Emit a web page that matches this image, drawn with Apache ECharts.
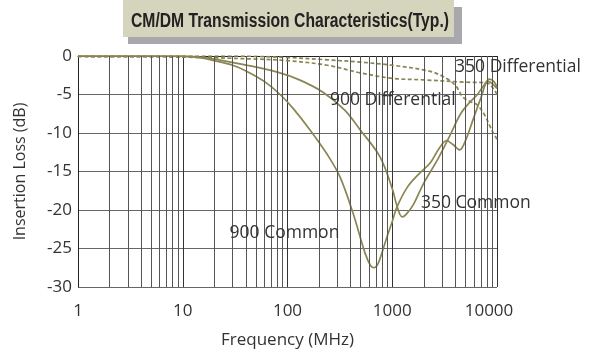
<!DOCTYPE html>
<html><head><meta charset="utf-8">
<script src="https://cdn.jsdelivr.net/npm/echarts@6/dist/echarts.min.js"></script>
<style>html,body{margin:0;padding:0;background:#fff}#c{width:590px;height:354px}</style>
</head><body><div id="c"></div>
<script>
const titleText = 'CM/DM Transmission Characteristics(Typ.)';
const xLabel = 'Frequency (MHz)';
const yLabel = 'Insertion Loss (dB)';
const xTicks = [1, 10, 100, 1000, 10000];
const minorGrid = [2,3,4,5,6,7,8,9,20,30,40,50,60,70,80,90,200,300,400,500,600,700,800,900,2000,3000,4000,5000,6000,7000,8000,9000];

const c900Freq = [1,5,10,15,20,30,41,60,85,113,164,240,317,422,550,620,670,730,800,890,1000,1110,1400,1800,2300,2800,3300,3800,4400,5000,6000,7000,8200,9000,10000];
const c900Vals = [0,0,-0.05,-0.25,-0.6,-1.2,-2.0,-3.3,-5.0,-6.8,-9.6,-12.8,-15.7,-20.4,-25.6,-27.2,-27.5,-27.0,-25.5,-23.5,-21.5,-19.6,-17.0,-15.3,-13.9,-12.0,-11.0,-11.5,-12.2,-11.0,-8.0,-5.5,-3.3,-3.6,-4.2];

const c350Freq = [1,10,18,41,80,130,218,350,495,764,1010,1100,1240,1350,1590,2000,2700,3500,4500,5500,6500,7500,8500,9300,10000];
const c350Vals = [0,0,-0.3,-1.2,-2.1,-3.1,-4.7,-7.0,-9.6,-13.1,-17.4,-19.3,-20.9,-20.6,-19.3,-16.5,-13.5,-10.5,-7.5,-6.0,-5.0,-3.8,-3.0,-3.3,-4.0];

const d350Freq = [1,30,100,240,500,1000,2150,3000,4000,4700,5500,6400,7500,8500,9200,10000];
const d350Vals = [0,0,-0.2,-0.5,-0.8,-1.2,-1.9,-2.6,-3.8,-5.3,-5.9,-6.3,-7.5,-9.0,-10.0,-10.8];

const d900Freq = [1,10,50,100,240,500,1000,2000,5000,8000,9200,10000];
const d900Vals = [-0.1,-0.15,-0.4,-0.6,-1.2,-2.2,-2.9,-3.1,-3.4,-3.5,-4.2,-5.0];

const seriesNames = ['900 Common','350 Common','350 Differential','900 Differential'];
const labelAnchors = [[28,-23],[1880,-19.1],[3980,-1.4],[254,-5.7]];

function pairs(f, v){ return f.map((x,i)=>[x, v[i]]); }

const lineColor = '#8a8553';
const txt = '#333';
const font = 'Open Sans';

// fit title into its box width
const titleFont = 'bold 20px "Liberation Sans", sans-serif';
const mctx = document.createElement('canvas').getContext('2d');
mctx.font = titleFont;
const titleW = mctx.measureText(titleText).width;
const titleScale = 318 / titleW;

const chart = echarts.init(document.getElementById('c'), null, {renderer:'canvas'});

function lab(i){
  return {
    symbol: 'circle', symbolSize: 0, silent: true,
    label: {show: true, position: 'right', distance: 0, formatter: seriesNames[i], color: txt, fontFamily: font, fontSize: 17.5},
    data: [{coord: labelAnchors[i]}]
  };
}

const option = {
  animation: false,
  backgroundColor: '#fff',
  grid: {left: 78, top: 56, right: 93, bottom: 67, containLabel: false, outerBoundsMode: 'none'},
  xAxis: {
    type: 'log', logBase: 10, min: 1, max: 10000,
    name: xLabel, nameLocation: 'middle', nameGap: 45,
    nameTextStyle: {color: txt, fontFamily: font, fontSize: 17},
    axisLine: {show: true, lineStyle: {color: '#222', width: 1}},
    axisTick: {show: false},
    axisLabel: {color: txt, fontFamily: font, fontSize: 17, margin: 16,
      formatter: v => (v === xTicks[xTicks.length-1] ? '{last|' + v + '}' : String(v)),
      rich: {last: {color: txt, fontFamily: font, fontSize: 17, padding: [0, 16, 0, 0]}}},
    splitLine: {show: true, lineStyle: {color: '#333', width: 1}}
  },
  yAxis: {
    type: 'value', min: -30, max: 0, interval: 5,
    name: yLabel, nameLocation: 'middle', nameGap: 50, nameRotate: 90,
    nameTextStyle: {color: txt, fontFamily: font, fontSize: 16},
    axisLine: {show: true, lineStyle: {color: '#222', width: 1}},
    axisTick: {show: false},
    axisLabel: {color: txt, fontFamily: font, fontSize: 17, margin: 6},
    splitLine: {show: true, lineStyle: {color: '#666', width: 1}}
  },
  graphic: [
    {type: 'rect', shape: {x: 128, y: 7, width: 334, height: 37}, style: {fill: '#a8a8ac'}, z: 10},
    {type: 'rect', shape: {x: 123, y: 0, width: 331, height: 37}, style: {fill: '#d5d4bd'}, z: 11},
    {type: 'text', x: 290, y: 21, scaleX: titleScale, z: 12, style: {text: titleText, fill: '#222', font: titleFont, align: 'center', verticalAlign: 'middle'}}
  ],
  series: [
    {
      type: 'line', data: [], z: 1, silent: true,
      markLine: {
        silent: true, symbol: ['none','none'], label: {show: false},
        lineStyle: {color: '#555', width: 1, type: 'solid'},
        data: minorGrid.map(v => ({xAxis: v}))
      }
    },
    {name: seriesNames[0], type: 'line', z: 3, data: pairs(c900Freq, c900Vals), showSymbol: false, smooth: 0.35,
     lineStyle: {color: lineColor, width: 1.7}, markPoint: lab(0)},
    {name: seriesNames[1], type: 'line', z: 3, data: pairs(c350Freq, c350Vals), showSymbol: false, smooth: 0.35,
     lineStyle: {color: lineColor, width: 1.7}, markPoint: lab(1)},
    {name: seriesNames[2], type: 'line', z: 3, data: pairs(d350Freq, d350Vals), showSymbol: false, smooth: 0.35,
     lineStyle: {color: lineColor, width: 1.7, type: [4, 2.5]}, markPoint: lab(2)},
    {name: seriesNames[3], type: 'line', z: 3, data: pairs(d900Freq, d900Vals), showSymbol: false, smooth: 0.35,
     lineStyle: {color: lineColor, width: 1.7, type: [4, 2.5]}, markPoint: lab(3)}
  ]
};
chart.setOption(option);
</script>
</body></html>
